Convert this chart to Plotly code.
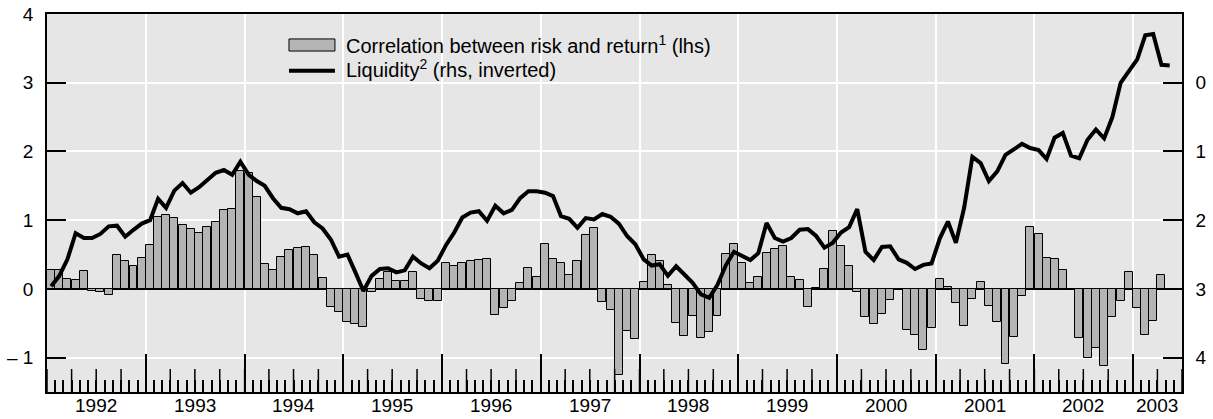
import pandas as pd
import plotly.graph_objects as go

# correlation between risk and return, monthly from Jan 1992 (lhs)
corr = [
    0.28, 0.28, 0.15, 0.13, 0.26, -0.03, -0.04, -0.09, 0.49, 0.41, 0.33, 0.45,
    0.64, 1.05, 1.07, 1.03, 0.93, 0.87, 0.82, 0.90, 0.97, 1.15, 1.16, 1.72,
    1.69, 1.34, 0.36, 0.27, 0.46, 0.56, 0.59, 0.61, 0.50, 0.16, -0.26, -0.33,
    -0.48, -0.51, -0.56, -0.04, 0.15, 0.24, 0.11, 0.12, 0.24, -0.14, -0.18, -0.17,
    0.37, 0.33, 0.37, 0.41, 0.42, 0.43, -0.38, -0.28, -0.18, 0.09, 0.30, 0.18,
    0.66, 0.44, 0.37, 0.20, 0.40, 0.79, 0.88, -0.19, -0.31, -1.25, -0.61, -0.73,
    0.10, 0.50, 0.41, 0.05, -0.49, -0.68, -0.39, -0.72, -0.63, -0.40, 0.51, 0.66,
    0.37, 0.08, 0.18, 0.52, 0.58, 0.63, 0.18, 0.13, -0.26, 0.02, 0.29, 0.84,
    0.63, 0.33, -0.04, -0.41, -0.51, -0.36, -0.16, -0.02, -0.60, -0.67, -0.89, -0.57,
    0.15, 0.03, -0.21, -0.54, -0.14, 0.10, -0.25, -0.48, -1.09, -0.70, -0.11, 0.90,
    0.80, 0.45, 0.43, 0.27, 0.00, -0.72, -1.01, -0.86, -1.12, -0.41, -0.17, 0.24,
    -0.28, -0.67, -0.47, 0.20,
]

# liquidity, monthly from Jan 1992 (rhs, inverted)
liquidity = [
    2.96, 2.81, 2.57, 2.19, 2.26, 2.26, 2.20, 2.09, 2.08, 2.24, 2.14, 2.05,
    2.00, 1.69, 1.82, 1.57, 1.46, 1.60, 1.52, 1.41, 1.31, 1.27, 1.34, 1.15,
    1.34, 1.43, 1.50, 1.68, 1.82, 1.84, 1.90, 1.87, 2.03, 2.12, 2.28, 2.53,
    2.50, 2.76, 3.03, 2.81, 2.71, 2.70, 2.76, 2.73, 2.53, 2.63, 2.70, 2.59,
    2.36, 2.18, 1.96, 1.89, 1.87, 2.01, 1.79, 1.90, 1.85, 1.68, 1.58, 1.58,
    1.60, 1.65, 1.94, 1.98, 2.11, 1.97, 1.99, 1.91, 1.95, 2.05, 2.23, 2.35,
    2.57, 2.66, 2.64, 2.81, 2.67, 2.79, 2.91, 3.08, 3.13, 2.94, 2.66, 2.46,
    2.52, 2.58, 2.48, 2.04, 2.26, 2.31, 2.26, 2.14, 2.13, 2.23, 2.40, 2.33,
    2.18, 2.10, 1.84, 2.46, 2.58, 2.39, 2.38, 2.57, 2.62, 2.71, 2.65, 2.63,
    2.26, 2.02, 2.33, 1.82, 1.08, 1.17, 1.43, 1.29, 1.05, 0.97, 0.89, 0.95,
    0.98, 1.11, 0.80, 0.73, 1.06, 1.10, 0.83, 0.68, 0.81, 0.50, 0.00, -0.17,
    -0.34, -0.69, -0.71, -0.26, -0.25,
]

years = list(range(1992, 2004))
lhs_ticks = [-1, 0, 1, 2, 3, 4]
lhs_text = ["\u2013 1", "0", "1", "2", "3", "4"]
rhs_ticks = [0, 1, 2, 3, 4]

start, end = "1992-01-01", "2003-07-01"
months = pd.date_range(start, periods=max(len(corr), len(liquidity)), freq="MS")
quarters = pd.date_range(start, end, freq="QS")
# year labels sit in the middle of each (visible) year
label_pos = [f"{y}-07-01" for y in years[:-1]] + [f"{years[-1]}-04-01"]

FONT = "Liberation Sans, Arial, sans-serif"

fig = go.Figure()
fig.add_trace(go.Bar(
    x=months[:len(corr)], y=corr, xperiod="M1", xperiodalignment="middle",
    marker=dict(color="#b4b4b4", line=dict(color="black", width=1)),
    showlegend=False,
))
fig.add_trace(go.Scatter(
    x=months[:len(liquidity)], y=liquidity, yaxis="y2", mode="lines",
    xperiod="M1", xperiodalignment="middle",
    line=dict(color="black", width=4), showlegend=False,
))

tick_common = dict(tickcolor="black", tickwidth=1.5, automargin=False)

fig.update_layout(
    width=1213, height=419,
    margin=dict(l=47, r=31, t=14, b=27),
    paper_bgcolor="white", plot_bgcolor="#e6e6e6",
    font=dict(family=FONT, size=19, color="black"),
    bargap=0,
    xaxis=dict(
        type="date", range=[start, end], tick0=start, dtick="M12",
        ticks="inside", ticklen=38, showticklabels=False,
        showgrid=True, gridcolor="white", gridwidth=1.5,
        showline=True, linecolor="black", linewidth=1.5, mirror=True,
        zeroline=False,
        minor=dict(dtick="M1", tick0=start, ticks="inside", ticklen=12,
                   tickcolor="black", tickwidth=1.5, showgrid=False),
        **tick_common,
    ),
    yaxis=dict(
        range=[-1.5, 4], tickmode="array", tickvals=lhs_ticks, ticktext=lhs_text,
        ticks="inside", ticklen=19, showgrid=True, gridcolor="white", gridwidth=1.5,
        zeroline=True, zerolinecolor="black", zerolinewidth=1.5,
        showline=True, linecolor="black", linewidth=1.5, ticklabelstandoff=8,
        **tick_common,
    ),
    yaxis2=dict(
        overlaying="y", side="right", range=[4.5, -1], tickmode="array",
        tickvals=rhs_ticks, ticks="inside", ticklen=19, showgrid=False,
        zeroline=False, showline=True, linecolor="black", linewidth=1.5,
        ticklabelstandoff=8, **tick_common,
    ),
)

# quarter ticks, medium length
for q in quarters:
    fig.add_shape(type="line", xref="x", yref="paper", ysizemode="pixel",
                  yanchor=0, x0=q, x1=q, y0=0, y1=23,
                  line=dict(color="black", width=1.5))

# year labels centred in each year
for pos, y in zip(label_pos, years):
    fig.add_annotation(xref="x", yref="paper", x=pos, y=0, yanchor="top",
                       yshift=-1, showarrow=False, text=str(y),
                       font=dict(size=19))

# hand-drawn legend
fig.add_shape(type="rect", xref="paper", yref="paper",
              x0=0.2132, x1=0.2537, y0=0.902, y1=0.934,
              fillcolor="#b4b4b4", line=dict(color="black", width=1))
fig.add_shape(type="line", xref="paper", yref="paper",
              x0=0.2132, x1=0.2537, y0=0.850, y1=0.850,
              line=dict(color="black", width=4))
fig.add_annotation(xref="paper", yref="paper", x=0.2617, y=0.918,
                   xanchor="left", yanchor="middle", showarrow=False,
                   text="Correlation between risk and return<sup>1</sup> (lhs)",
                   font=dict(size=20))
fig.add_annotation(xref="paper", yref="paper", x=0.2617, y=0.857,
                   xanchor="left", yanchor="middle", showarrow=False,
                   text="Liquidity<sup>2</sup> (rhs, inverted)",
                   font=dict(size=20))

# drop the default page margin so the figure sits at the window origin
fig.write_html("out.html", config={"displayModeBar": False},
               post_script="document.body.style.margin='0';")
